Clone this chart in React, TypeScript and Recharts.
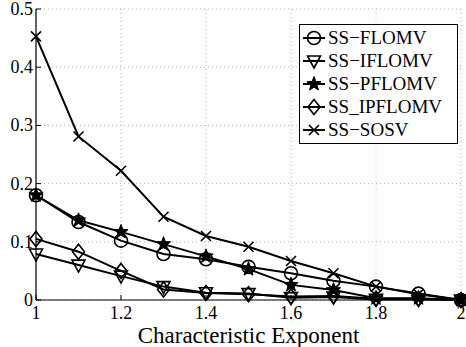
import React from "react";
import {
  CartesianGrid,
  Line,
  LineChart,
  XAxis,
  YAxis,
} from "recharts";

const exponents = [1, 1.1, 1.2, 1.3, 1.4, 1.5, 1.6, 1.7, 1.8, 1.9, 2];
const ssFlomv = [0.18, 0.134, 0.102, 0.079, 0.07, 0.057, 0.046, 0.033, 0.023, 0.011, 0];
const ssIflomv = [0.079, 0.06, 0.041, 0.023, 0.0125, 0.011, 0.004, 0.005, 0.001, 0.001, 0];
const ssPflomv = [0.18, 0.137, 0.117, 0.096, 0.075, 0.053, 0.026, 0.017, 0.003, 0.003, 0];
const ssIpflomv = [0.105, 0.083, 0.05, 0.018, 0.012, 0.01, 0.006, 0.007, 0.002, 0.002, 0];
const ssSosv = [0.453, 0.281, 0.222, 0.143, 0.11, 0.0915, 0.067, 0.046, 0.023, 0.01, 0];

const xTicks = [1, 1.2, 1.4, 1.6, 1.8, 2];
const yTicks = [0, 0.1, 0.2, 0.3, 0.4, 0.5];

type Shape = "circle" | "triangle" | "star" | "diamond" | "cross";

const seriesDefs: { key: string; name: string; shape: Shape; values: number[] }[] = [
  { key: "flomv", name: "SS\u2212FLOMV", shape: "circle", values: ssFlomv },
  { key: "iflomv", name: "SS\u2212IFLOMV", shape: "triangle", values: ssIflomv },
  { key: "pflomv", name: "SS\u2212PFLOMV", shape: "star", values: ssPflomv },
  { key: "ipflomv", name: "SS_IPFLOMV", shape: "diamond", values: ssIpflomv },
  { key: "sosv", name: "SS\u2212SOSV", shape: "cross", values: ssSosv },
];

const data = exponents.map((x, i) => {
  const row: Record<string, number> = { x };
  seriesDefs.forEach((s) => {
    row[s.key] = s.values[i];
  });
  return row;
});

const FONT = "Liberation Serif";
const W = 466;
const H = 347;
const PLOT_TOP = 9;
const PLOT_BOTTOM = 300;
const PLOT_LEFT = 36;
const PLOT_RIGHT = 461;
const TICK_LEN = 5;

function starPath(cx: number, cy: number, r: number) {
  const pts: string[] = [];
  for (let i = 0; i < 10; i++) {
    const rad = i % 2 === 0 ? r : r * 0.42;
    const a = -Math.PI / 2 + (i * Math.PI) / 5;
    pts.push(`${cx + rad * Math.cos(a)},${cy + rad * Math.sin(a)}`);
  }
  return `M${pts.join("L")}Z`;
}

function Marker({ shape, cx, cy }: { shape: Shape; cx: number; cy: number }) {
  const stroke = "#000";
  const sw = 1.6;
  switch (shape) {
    case "circle":
      return <circle cx={cx} cy={cy} r={6.5} fill="none" stroke={stroke} strokeWidth={sw} />;
    case "triangle":
      return (
        <path
          d={`M${cx - 6.5},${cy - 5}L${cx + 6.5},${cy - 5}L${cx},${cy + 7}Z`}
          fill="none"
          stroke={stroke}
          strokeWidth={sw}
        />
      );
    case "star":
      return <path d={starPath(cx, cy, 7.5)} fill="#000" stroke={stroke} strokeWidth={1} />;
    case "diamond":
      return (
        <path
          d={`M${cx},${cy - 7.5}L${cx + 6},${cy}L${cx},${cy + 7.5}L${cx - 6},${cy}Z`}
          fill="none"
          stroke={stroke}
          strokeWidth={sw}
        />
      );
    default:
      return (
        <path
          d={`M${cx - 5},${cy - 5}L${cx + 5},${cy + 5}M${cx - 5},${cy + 5}L${cx + 5},${cy - 5}`}
          stroke={stroke}
          strokeWidth={sw}
        />
      );
  }
}

const fmt = (v: number) => (Number.isInteger(v) ? String(v) : v.toFixed(1));

function BottomTick(props: any) {
  const { x, payload } = props;
  return (
    <g>
      <line x1={x} x2={x} y1={PLOT_BOTTOM} y2={PLOT_BOTTOM - TICK_LEN} stroke="#000" strokeWidth={1} />
      <text
        x={x}
        y={319}
        textAnchor="middle"
        fontFamily={FONT}
        fontSize={18}
        fill="#000"
      >
        {fmt(payload.value)}
      </text>
    </g>
  );
}

function TopTick(props: any) {
  const { x } = props;
  return <line x1={x} x2={x} y1={PLOT_TOP} y2={PLOT_TOP + TICK_LEN} stroke="#000" strokeWidth={1} />;
}

function LeftTick(props: any) {
  const { y, payload } = props;
  return (
    <g>
      <line x1={PLOT_LEFT} x2={PLOT_LEFT + TICK_LEN} y1={y} y2={y} stroke="#000" strokeWidth={1} />
      <text
        x={33}
        y={y + 6}
        textAnchor="end"
        fontFamily={FONT}
        fontSize={18}
        fill="#000"
      >
        {fmt(payload.value)}
      </text>
    </g>
  );
}

function RightTick(props: any) {
  const { y } = props;
  return <line x1={PLOT_RIGHT} x2={PLOT_RIGHT - TICK_LEN} y1={y} y2={y} stroke="#000" strokeWidth={1} />;
}

function LegendBox() {
  return (
    <div
      style={{
        position: "absolute",
        left: 299,
        top: 24,
        width: 159,
        height: 120,
        border: "1.5px solid #000",
        background: "#fff",
        boxSizing: "border-box",
        fontFamily: FONT,
        fontSize: 19,
        color: "#000",
        paddingTop: 1,
      }}
    >
      {seriesDefs.map((s) => (
        <div key={s.key} style={{ display: "flex", alignItems: "center", height: 23 }}>
          <svg width={28} height={20} style={{ flex: "none" }}>
            <line x1={3} x2={25} y1={10} y2={10} stroke="#000" strokeWidth={2} />
            <Marker shape={s.shape} cx={14} cy={10} />
          </svg>
          <span style={{ lineHeight: "23px", whiteSpace: "nowrap" }}>{s.name}</span>
        </div>
      ))}
    </div>
  );
}

export default function App() {
  return (
    <div
      style={{
        position: "absolute",
        left: 0,
        top: 0,
        width: W,
        height: H,
        background: "#fff",
        fontFamily: FONT,
      }}
    >
      <LineChart
        width={W}
        height={H}
        data={data}
        margin={{ top: PLOT_TOP, right: W - PLOT_RIGHT, left: 0, bottom: 0 }}
        style={{ fontFamily: FONT }}
      >
        <CartesianGrid
          stroke="#b0b0b0"
          strokeDasharray="1 3"
          horizontalValues={yTicks}
          verticalValues={xTicks}
        />
        <XAxis
          dataKey="x"
          type="number"
          domain={[1, 2]}
          ticks={xTicks}
          height={H - PLOT_BOTTOM}
          axisLine={{ stroke: "#000", strokeWidth: 1.2 }}
          tickLine={false}
          tick={BottomTick}
          interval={0}
          label={{
            value: "Characteristic Exponent",
            position: "insideBottom",
            offset: 4,
            fontFamily: FONT,
            fontSize: 23,
            fill: "#000",
          }}
        />
        <XAxis
          xAxisId="top"
          orientation="top"
          dataKey="x"
          type="number"
          domain={[1, 2]}
          ticks={xTicks}
          height={0}
          axisLine={{ stroke: "#000", strokeWidth: 1.2 }}
          tickLine={false}
          tick={TopTick}
          interval={0}
        />
        <YAxis
          type="number"
          domain={[0, 0.5]}
          ticks={yTicks}
          width={PLOT_LEFT}
          axisLine={{ stroke: "#000", strokeWidth: 1.2 }}
          tickLine={false}
          tick={LeftTick}
          interval={0}
        />
        <YAxis
          yAxisId="right"
          orientation="right"
          type="number"
          domain={[0, 0.5]}
          ticks={yTicks}
          width={0}
          axisLine={{ stroke: "#000", strokeWidth: 1.2 }}
          tickLine={false}
          tick={RightTick}
          interval={0}
        />
        {seriesDefs.map((s) => (
          <Line
            key={s.key}
            dataKey={s.key}
            name={s.name}
            type="linear"
            stroke="#000"
            strokeWidth={2}
            isAnimationActive={false}
            dot={(p: any) => <Marker key={`${s.key}-${p.index}`} shape={s.shape} cx={p.cx} cy={p.cy} />}
            activeDot={false}
          />
        ))}
      </LineChart>
      <LegendBox />
    </div>
  );
}
